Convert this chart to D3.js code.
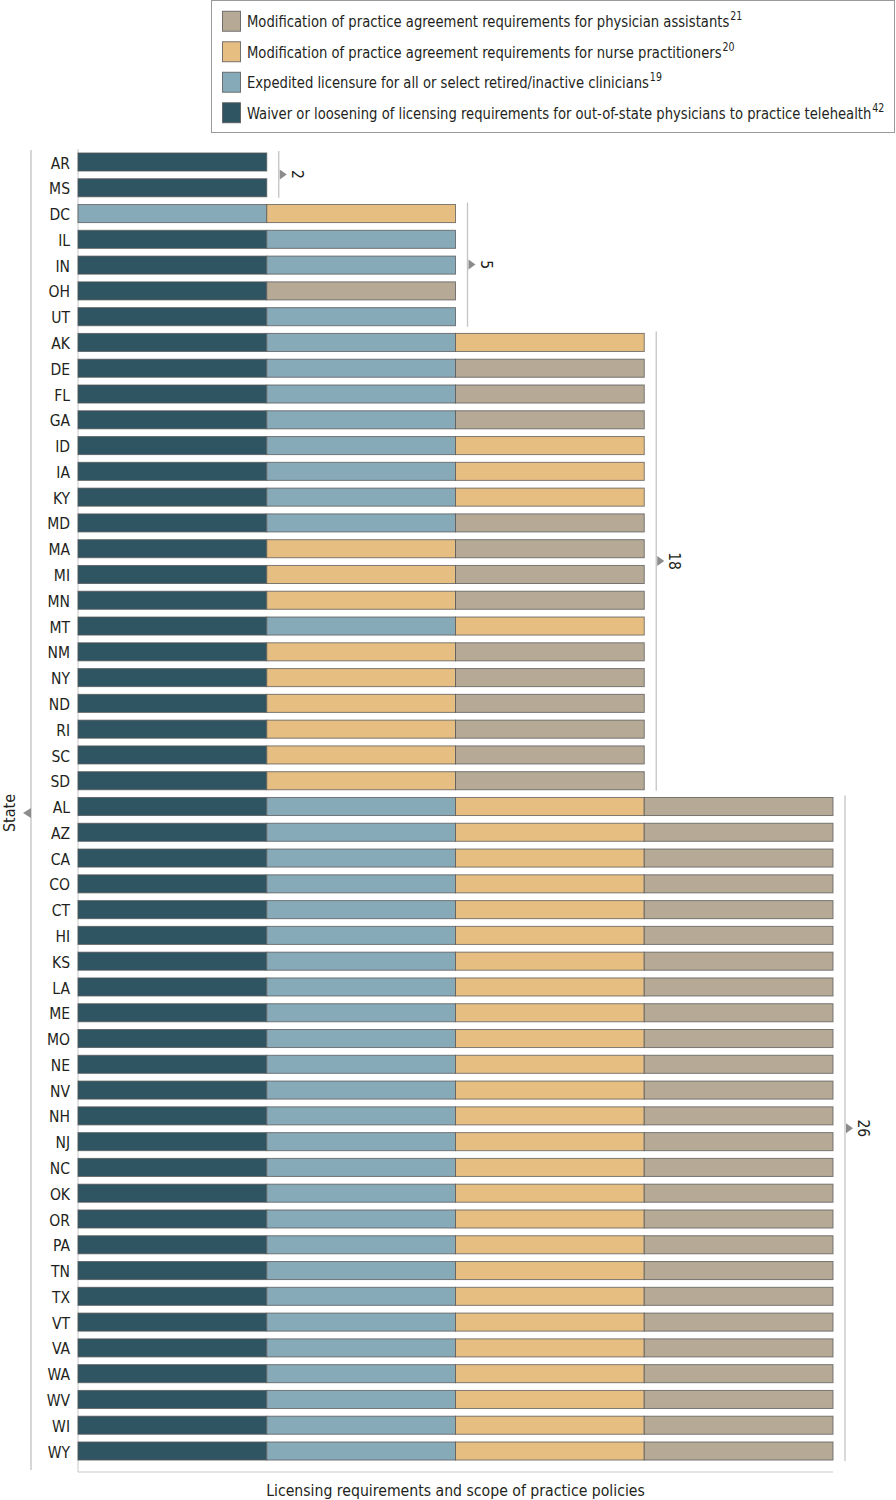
<!DOCTYPE html>
<html><head><meta charset="utf-8">
<script src="https://cdn.jsdelivr.net/npm/d3@7"></script>
<style>
body{margin:0;background:#fff;}
text{font-family:"Liberation Sans Narrow","DejaVu Sans Condensed",sans-serif;fill:#231f20;}
</style></head><body>
<svg id="chart" width="896" height="1500"></svg>
<script>
// ---- data ----
const categories = ["W","E","N","P"];
const categoryLabels = [
  "Modification of practice agreement requirements for physician assistants",
  "Modification of practice agreement requirements for nurse practitioners",
  "Expedited licensure for all or select retired/inactive clinicians",
  "Waiver or loosening of licensing requirements for out-of-state physicians to practice telehealth"
];
const legendKeys = ["P","N","E","W"];
const legendRefs = ["21","20","19","42"];
const states = ["AR","MS","DC","IL","IN","OH","UT","AK","DE","FL","GA","ID","IA","KY","MD","MA","MI","MN","MT","NM","NY","ND","RI","SC","SD",
 "AL","AZ","CA","CO","CT","HI","KS","LA","ME","MO","NE","NV","NH","NJ","NC","OK","OR","PA","TN","TX","VT","VA","WA","WV","WI","WY"];
const policies = [
 ["W"],["W"],
 ["E","N"],["W","E"],["W","E"],["W","P"],["W","E"],
 ["W","E","N"],["W","E","P"],["W","E","P"],["W","E","P"],["W","E","N"],["W","E","N"],["W","E","N"],["W","E","P"],
 ["W","N","P"],["W","N","P"],["W","N","P"],["W","E","N"],["W","N","P"],["W","N","P"],["W","N","P"],["W","N","P"],["W","N","P"],["W","N","P"],
 ...Array(26).fill(["W","E","N","P"])
];
const groupSizes = [2,5,18,26];
const groupLabels = ["2","5","18","26"];
const xTitle = "Licensing requirements and scope of practice policies";
const yTitle = "State";

// ---- drawing ----
const colors = {W:"#2f5563",E:"#87aab9",N:"#e6be82",P:"#b6aa96"};
const svg = d3.select("#chart");
const x = d3.scaleLinear().domain([0,4]).range([78,833]);
const y = d3.scaleBand().domain(states).range([149.1,1463.9]).paddingInner(0.3).paddingOuter(0.15);

// axes lines
svg.append("line").attr("x1",78).attr("x2",78).attr("y1",149).attr("y2",1472).attr("stroke","#c8c8c8");
svg.append("line").attr("x1",78).attr("x2",833).attr("y1",1472).attr("y2",1472).attr("stroke","#c8c8c8");
svg.append("line").attr("x1",31).attr("x2",31).attr("y1",150).attr("y2",1470).attr("stroke","#bdbdbd").attr("stroke-width",1.2);
svg.append("path").attr("d",`M23,${813}L31,${808}L31,${818}Z`).attr("fill","#8c8c8c");
svg.append("text").attr("transform","translate(15,813) rotate(-90)").attr("text-anchor","middle")
  .attr("font-size",16).text(yTitle);

// rows
const rows = svg.append("g");
states.forEach((s,i)=>{
  const g = rows.append("g");
  policies[i].forEach((c,j)=>{
    g.append("rect").attr("x",x(j)).attr("y",y(s)).attr("width",x(j+1)-x(j)).attr("height",y.bandwidth())
      .attr("fill",colors[c]).attr("stroke","#555").attr("stroke-opacity",0.75).attr("stroke-width",1);
  });
  rows.append("text").attr("x",70).attr("y",y(s)+y.bandwidth()/2+1).attr("dy","0.36em")
    .attr("text-anchor","end").attr("font-size",15.5).text(s);
});

// brackets
let start=0;
groupSizes.forEach((n,k)=>{
  const first=states[start], last=states[start+n-1];
  const len = policies[start].length;
  const bx = x(len)+12;
  const y0 = y(first)-2, y1 = y(last)+y.bandwidth()+1;
  const ym = (y0+y1)/2;
  svg.append("line").attr("x1",bx).attr("x2",bx).attr("y1",y0).attr("y2",y1).attr("stroke","#c4c4c4").attr("stroke-width",1.3);
  svg.append("path").attr("d",`M${bx+1},${ym-5}L${bx+8},${ym}L${bx+1},${ym+5}Z`).attr("fill","#8c8c8c");
  svg.append("text").attr("transform",`translate(${bx+13},${ym}) rotate(90)`).attr("text-anchor","middle")
    .attr("font-size",15.5).text(groupLabels[k]);
  start+=n;
});

// x title (compressed horizontally to match reference width ~379px)
const xt = svg.append("text").attr("font-size",16.5).attr("text-anchor","middle").text(xTitle);
const xsx = 379/xt.node().getComputedTextLength();
xt.attr("transform",`translate(455.5,1496) scale(${xsx},1)`);

// legend
svg.append("rect").attr("x",211.5).attr("y",0.5).attr("width",683).attr("height",132).attr("fill","#fff").attr("stroke","#9a9a9a");
const ly = d3.scaleBand().domain(legendKeys).range([6,128]);
const lfs = 16;
const probe = svg.append("text").attr("font-size",lfs).text(categoryLabels[3]);
const sx = 625/probe.node().getComputedTextLength();
probe.remove();
legendKeys.forEach((k,i)=>{
  const cy = ly(k)+ly.bandwidth()/2;
  svg.append("rect").attr("x",222.5).attr("y",cy-10).attr("width",18).attr("height",20)
    .attr("fill",colors[k]).attr("stroke","#555").attr("stroke-opacity",0.8);
  const t = svg.append("text").attr("transform",`translate(247,${cy}) scale(${sx},1)`).attr("dy","0.36em").attr("font-size",lfs)
    .text(categoryLabels[i]);
  t.append("tspan").attr("font-size",11.5).attr("dy","-0.6em").attr("dx","1").text(legendRefs[i]);
});
</script></body></html>
